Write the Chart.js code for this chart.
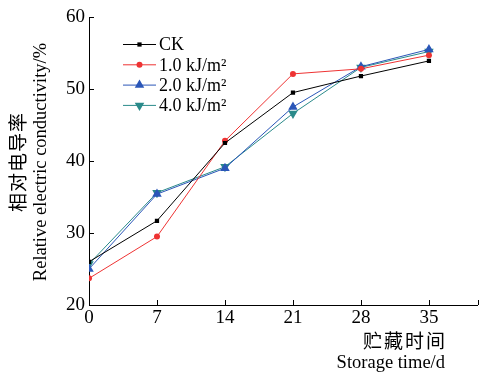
<!DOCTYPE html>
<html>
<head>
<meta charset="utf-8">
<script src="https://cdn.jsdelivr.net/npm/chart.js@4.4.0/dist/chart.umd.min.js"></script>
<style>
  html, body { margin: 0; padding: 0; background: #fff; }
  #wrap { width: 483px; height: 373px; position: relative; }
</style>
</head>
<body>
<div id="wrap"><canvas id="ecChart"></canvas></div>
<script>
// storage days
const days = [0, 7, 14, 21, 28, 35];
const yTicks = [20, 30, 40, 50, 60];

// relative electric conductivity (%)
const ck = [26.0, 31.7, 42.5, 49.5, 51.8, 53.9];
const uv10 = [23.7, 29.5, 42.8, 52.1, 52.8, 54.7];
const uv20 = [25.0, 35.4, 39.0, 47.5, 53.1, 55.5];
const uv40 = [25.7, 35.6, 39.2, 46.6, 53.0, 55.2];

const seriesNames = ['CK', '1.0 kJ/m²', '2.0 kJ/m²', '4.0 kJ/m²'];

const serif = "'Liberation Serif', 'Times New Roman', serif";
const cjk = "'Noto Sans CJK SC', sans-serif";

function pts(vals) {
    return days.map((d, i) => ({ x: d, y: vals[i] }));
}

function makeSet(label, vals, color, style, radius, rotation) {
    return {
        label: label,
        data: pts(vals),
        borderColor: color,
        backgroundColor: color,
        borderWidth: 1,
        pointStyle: style,
        pointRadius: radius,
        pointRotation: rotation || 0,
        pointBorderWidth: 0,
        tension: 0
    };
}

const ecDatasets = [
    makeSet(seriesNames[0], ck, '#000000', 'rect', 3),
    makeSet(seriesNames[1], uv10, '#ee3333', 'circle', 3),
    makeSet(seriesNames[2], uv20, '#2a56b8', 'triangle', 5.5),
    makeSet(seriesNames[3], uv40, '#2a8a8a', 'triangle', 5.5, 180)
];

// inward ticks, legend and axis titles
const decorPlugin = {
    id: 'decor',
    afterDraw(chart) {
        const ctx = chart.ctx;
        const xs = chart.scales.x, ys = chart.scales.y;
        const area = chart.chartArea;
        ctx.save();
        ctx.strokeStyle = '#000';
        ctx.lineWidth = 1;
        ctx.beginPath();
        xs.ticks.forEach(t => {
            const px = Math.round(xs.getPixelForValue(t.value)) + 0.5;
            ctx.moveTo(px, area.bottom);
            ctx.lineTo(px, area.bottom - 5);
        });
        ys.ticks.forEach(t => {
            const py = Math.round(ys.getPixelForValue(t.value)) + 0.5;
            ctx.moveTo(area.left, py);
            ctx.lineTo(area.left + 5, py);
        });
        ctx.stroke();

        // legend
        const lx = 123, ly = 44.5, gap = 20.3;
        chart.data.datasets.forEach((ds, i) => {
            const y = ly + i * gap;
            ctx.strokeStyle = ds.borderColor;
            ctx.lineWidth = 1;
            ctx.beginPath();
            ctx.moveTo(lx, y);
            ctx.lineTo(lx + 33, y);
            ctx.stroke();
            ctx.fillStyle = ds.backgroundColor;
            Chart.helpers.drawPoint(ctx, {
                pointStyle: ds.pointStyle,
                radius: ds.pointRadius,
                rotation: ds.pointRotation,
                borderWidth: 0
            }, lx + 16.5, y);
            ctx.fillStyle = '#000';
            ctx.font = '18px ' + serif;
            ctx.textAlign = 'left';
            ctx.textBaseline = 'middle';
            ctx.fillText(ds.label, lx + 36, y + 1);
        });

        // y title
        ctx.fillStyle = '#000';
        ctx.save();
        ctx.translate(18, 162);
        ctx.rotate(-Math.PI / 2);
        ctx.textAlign = 'center';
        ctx.textBaseline = 'middle';
        ctx.font = '19px ' + cjk;
        ctx.letterSpacing = '1px';
        ctx.fillText('相对电导率', 0, 0);
        ctx.letterSpacing = '0px';
        ctx.font = '18.5px ' + serif;
        ctx.fillText('Relative electric conductivity/%', 0, 23);
        ctx.restore();

        // x title
        ctx.textAlign = 'right';
        ctx.textBaseline = 'middle';
        ctx.font = '19px ' + cjk;
        ctx.letterSpacing = '2px';
        ctx.fillText('贮藏时间', 447, 341);
        ctx.letterSpacing = '0px';
        ctx.font = '18.5px ' + serif;
        ctx.fillText('Storage time/d', 445, 363);
        ctx.restore();
    }
};

const ecConfig = {
    type: 'line',
    data: { datasets: ecDatasets },
    options: {
        responsive: false,
        animation: false,
        layout: { padding: { top: 17, right: 1, left: 0, bottom: 0 } },
        plugins: { legend: { display: false }, tooltip: { enabled: false } },
        scales: {
            x: {
                type: 'linear',
                min: 0,
                max: 40,
                afterFit(scale) { scale.height = 68; },
                afterBuildTicks(scale) {
                    scale.ticks = days.map(v => ({ value: v })).concat([{ value: 40 }]);
                },
                ticks: {
                    color: '#000',
                    font: { family: serif, size: 19 },
                    padding: 2,
                    maxRotation: 0,
                    callback: v => (v === 40 ? '' : v)
                },
                grid: { display: true, drawOnChartArea: false, drawTicks: false },
                border: { display: true, color: '#000', width: 1 }
            },
            y: {
                min: 20,
                max: 60,
                afterFit(scale) { scale.width = 89; },
                afterBuildTicks(scale) {
                    scale.ticks = yTicks.map(v => ({ value: v }));
                },
                ticks: {
                    color: '#000',
                    font: { family: serif, size: 19 },
                    padding: 4
                },
                grid: { display: true, drawOnChartArea: false, drawTicks: false },
                border: { display: true, color: '#000', width: 1 }
            }
        }
    },
    plugins: [decorPlugin]
};

const canvas = document.getElementById('ecChart');
canvas.width = 483;
canvas.height = 373;
const ecChart = new Chart(canvas, ecConfig);
</script>
</body>
</html>
